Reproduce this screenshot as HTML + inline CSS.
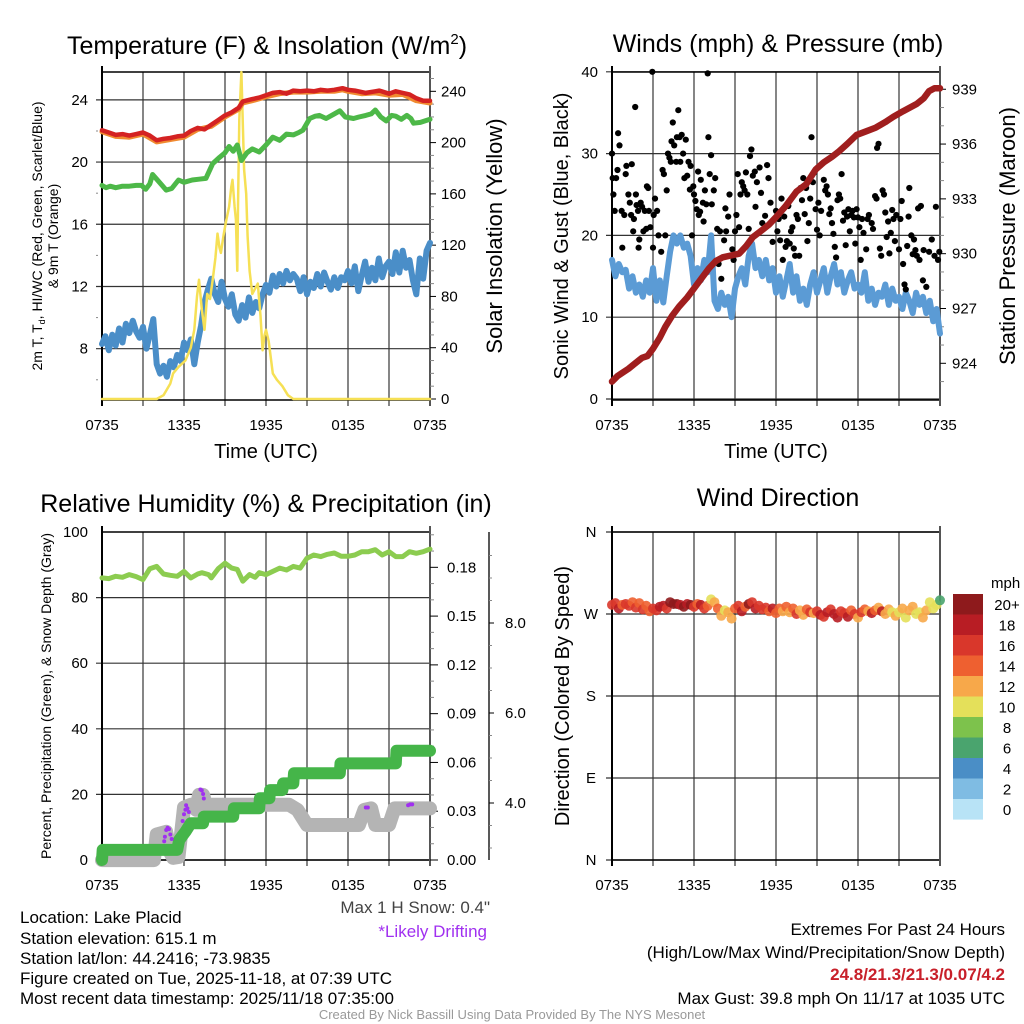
<!DOCTYPE html>
<html><head><meta charset="utf-8">
<style>
html,body{margin:0;padding:0;background:#fff;}
svg{display:block;font-family:"Liberation Sans",sans-serif;}
.nar{font-family:"Liberation Sans Narrow","Liberation Sans",sans-serif;}
</style></head>
<body>
<svg id="root" width="1024" height="1024" viewBox="0 0 1024 1024" xmlns="http://www.w3.org/2000/svg">
<rect x="0" y="0" width="1024" height="1024" fill="#fff"/>
<g id="p1"></g>
<g id="p2"></g>
<g id="p3"></g>
<g id="p4"></g>

<text x="267" y="54" font-size="25" text-anchor="middle">Temperature (F) &amp; Insolation (W/m<tspan font-size="15" dy="-10">2</tspan><tspan dy="10">)</tspan></text>
<text x="778" y="52" font-size="25" text-anchor="middle">Winds (mph) &amp; Pressure (mb)</text>
<text x="266" y="512" font-size="25" text-anchor="middle">Relative Humidity (%) &amp; Precipitation (in)</text>
<text x="778" y="506" font-size="25" text-anchor="middle">Wind Direction</text>

<text transform="translate(42,236) rotate(-90)" font-size="14" text-anchor="middle">2m T, T<tspan font-size="9" dy="3">d</tspan><tspan dy="-3">, HI/WC (Red, Green, Scarlet/Blue)</tspan></text>
<text transform="translate(58,236) rotate(-90)" font-size="14" text-anchor="middle">&amp; 9m T (Orange)</text>
<text transform="translate(502,236) rotate(-90)" font-size="22" text-anchor="middle">Solar Insolation (Yellow)</text>
<text x="266" y="458" font-size="20" text-anchor="middle">Time (UTC)</text>

<text transform="translate(568,236) rotate(-90)" font-size="20" text-anchor="middle">Sonic Wind &amp; Gust (Blue, Black)</text>
<text transform="translate(1015,236) rotate(-90)" font-size="22" text-anchor="middle">Station Pressure (Maroon)</text>
<text x="776" y="458" font-size="20" text-anchor="middle">Time (UTC)</text>

<text transform="translate(51,696) rotate(-90)" font-size="14" text-anchor="middle">Percent, Precipitation (Green), &amp; Snow Depth (Gray)</text>
<text transform="translate(569,696) rotate(-90)" font-size="20" text-anchor="middle">Direction (Colored By Speed)</text>

<text x="991" y="588" font-size="15">mph</text>
<g id="cbar"></g>

<text class="nar" x="490" y="913" font-size="17" text-anchor="end" fill="#444">Max 1 H Snow: 0.4"</text>
<text class="nar" x="487" y="937" font-size="17" text-anchor="end" fill="#a030f0">*Likely Drifting</text>
<text class="nar" x="20" y="923" font-size="17">Location: Lake Placid</text>
<text class="nar" x="20" y="944" font-size="17">Station elevation: 615.1 m</text>
<text class="nar" x="20" y="964" font-size="17">Station lat/lon: 44.2416; -73.9835</text>
<text class="nar" x="20" y="984" font-size="17">Figure created on Tue, 2025-11-18, at 07:39 UTC</text>
<text class="nar" x="20" y="1004" font-size="17">Most recent data timestamp: 2025/11/18 07:35:00</text>
<text class="nar" x="1005" y="935" font-size="17" text-anchor="end">Extremes For Past 24 Hours</text>
<text class="nar" x="1005" y="958" font-size="17" text-anchor="end">(High/Low/Max Wind/Precipitation/Snow Depth)</text>
<text class="nar" x="1005" y="980" font-size="17" font-weight="bold" text-anchor="end" fill="#c8202a">24.8/21.3/21.3/0.07/4.2</text>
<text class="nar" x="1005" y="1004" font-size="17" text-anchor="end">Max Gust: 39.8 mph On 11/17 at 1035 UTC</text>
<text class="nar" x="512" y="1019" font-size="13" text-anchor="middle" fill="#999">Created By Nick Bassill Using Data Provided By The NYS Mesonet</text>
</svg>
<script>
// ---------- DATA ----------
const xTickLabels = ["0735","1335","1935","0135","0735"];
// Panel 1 (hours since 0735, value)
const tempT = [[0,22.05],[0.5,21.9],[1,21.75],[1.5,21.8],[2,21.7],[2.5,21.8],[3,21.9],[3.5,21.7],[4,21.4],[4.5,21.5],[5,21.55],[5.5,21.65],[6,21.7],[6.5,22.0],[7,22.2],[7.5,22.1],[8,22.4],[8.5,22.7],[9,23.0],[9.5,23.2],[10,23.5],[10.3,23.9],[11,24.05],[11.5,24.15],[12,24.3],[12.5,24.45],[13,24.5],[13.5,24.4],[14,24.6],[14.5,24.55],[15,24.6],[15.5,24.55],[16,24.65],[16.5,24.6],[17,24.65],[17.6,24.75],[18,24.65],[18.5,24.6],[19,24.5],[19.3,24.45],[20,24.55],[20.3,24.6],[21,24.4],[21.5,24.55],[22,24.45],[22.5,24.35],[23,24.1],[23.5,23.95],[24,23.95]];
const temp9m = [[0,21.95],[1,21.65],[2,21.6],[3,21.8],[4,21.3],[5,21.45],[6,21.6],[7,22.1],[8,22.3],[9,22.9],[10,23.4],[10.3,23.8],[11,23.95],[12,24.2],[13,24.4],[14,24.5],[15,24.5],[16,24.55],[17,24.55],[17.6,24.65],[18,24.55],[19,24.4],[20,24.45],[21,24.3],[22,24.35],[23,23.95],[24,23.8]];
const dewT = [[0,18.5],[0.3,18.35],[0.6,18.45],[1,18.35],[1.5,18.45],[2,18.45],[2.5,18.5],[2.9,18.5],[3.2,18.25],[3.5,18.6],[3.7,19.2],[4,18.9],[4.4,18.5],[4.7,18.2],[5.1,18.3],[5.6,18.85],[6,18.7],[6.6,18.85],[7.1,18.9],[7.6,18.95],[8.1,19.9],[8.6,20.3],[9,20.6],[9.3,21.0],[9.6,20.7],[9.9,21.1],[10.2,20.1],[10.6,20.6],[11,20.85],[11.5,20.65],[12,21.1],[12.5,21.6],[13,21.4],[13.5,21.8],[14,21.75],[14.4,21.9],[14.7,22.05],[15.2,22.8],[15.6,22.95],[15.9,23.0],[16.4,22.8],[17,23.1],[17.4,23.3],[17.8,22.9],[18.4,22.8],[18.8,22.9],[19.3,23.0],[19.7,23.1],[20,23.35],[20.4,22.9],[20.8,22.65],[21.2,23.0],[21.5,22.95],[21.9,22.75],[22.3,23.0],[22.6,22.8],[22.8,22.5],[23.3,22.55],[24,22.75]];
const windChill = [8.3,8.8,7.9,8.9,8.2,9.3,8.4,9.6,9.0,9.8,9.1,8.7,9.4,8.0,8.9,9.9,7.0,6.4,6.9,6.2,7.2,6.8,7.6,7.2,8.4,7.9,8.6,7.0,8.4,9.5,11.0,11.8,12.5,11.5,11.0,12.3,11.2,10.7,11.5,10.2,9.8,10.8,10.0,11.3,10.3,11.0,10.6,11.5,12.1,11.6,12.7,12.0,12.8,12.2,13.0,12.4,12.8,12.5,11.7,12.6,11.5,12.3,11.9,12.8,12.0,12.9,12.3,11.8,12.6,11.9,12.6,12.4,13.0,12.2,13.3,11.7,12.7,13.6,12.3,13.2,12.4,13.8,12.6,13.3,13.6,12.8,14.2,12.9,14.3,13.2,13.7,12.4,11.5,13.8,12.5,14.3,14.8];
const solar = [[0,0],[4.0,0],[4.5,3],[5.0,12],[5.2,20],[5.6,25],[6.1,30],[6.5,40],[6.75,54],[6.95,80],[7.1,93],[7.3,70],[7.5,54],[7.7,82],[7.9,78],[8.1,93],[8.3,110],[8.45,129],[8.6,118],[8.7,114],[8.9,128],[9.1,140],[9.3,150],[9.45,165],[9.55,171],[9.7,150],[9.8,140],[9.9,100],[9.95,150],[10.05,218],[10.2,255],[10.3,215],[10.4,179],[10.55,160],[10.65,127],[10.8,100],[11.0,82],[11.2,86],[11.4,90],[11.6,65],[11.75,38],[11.9,50],[12.0,54],[12.2,45],[12.5,20],[12.8,15],[13.2,10],[13.6,3],[14.0,0],[24,0]];
// Panel 2
const pressure = [[0,923.0],[0.4,923.3],[0.8,923.5],[1.2,923.7],[1.7,924.0],[2.2,924.3],[2.6,924.4],[3,924.8],[3.5,925.4],[3.9,926.0],[4.4,926.6],[4.9,927.1],[5.5,927.6],[6.1,928.2],[6.6,928.7],[7.1,929.2],[7.6,929.6],[8.1,929.8],[8.7,929.9],[9.3,930.0],[9.8,930.4],[10.3,930.9],[11,931.3],[11.5,931.6],[12,932.0],[12.7,932.6],[13.5,933.4],[14.2,933.8],[14.9,934.6],[15.5,935.0],[16.1,935.3],[16.6,935.6],[17.2,936.0],[17.9,936.5],[18.6,936.7],[19.3,936.9],[20,937.2],[20.6,937.5],[21.3,937.8],[22.3,938.2],[22.8,938.5],[23.2,938.9],[23.6,939.05],[24,939.05]];
const windSpeed = [17,15,16.5,15.5,15.8,13.5,15,13,14,12.5,14.5,13,16,12,14.5,11.8,15,18,20,19,20,18.5,19,17.5,14,16,14.5,17,15.5,20,12,11,13,11.5,12.5,10,13.5,15,16,14,17.5,19,16,17,15,17,14.5,16,13,15,12.5,14.5,16.5,13,15,12,13.5,11.5,14,15.5,13,14.5,16,13,15,16.5,14,15.5,13,14.5,15.5,13.5,14,13,15.5,12,13.5,11.5,13,12.5,14,11.5,13.5,12,12.5,11,13,12,10.5,13,11.5,12.5,10.5,12,9.5,11,8];
const gustTimes = [0.0,0.05,0.1,0.2,0.3,0.4,0.45,0.55,0.7,0.75,0.9,1.0,1.05,1.2,1.3,1.4,1.45,1.55,1.6,1.7,1.75,1.8,1.9,1.95,2.0,2.1,2.2,2.3,2.4,2.5,2.55,2.65,2.7,2.8,2.95,3.0,3.05,3.15,3.3,3.4,3.6,3.7,3.8,3.9,4.0,4.1,4.2,4.3,4.35,4.45,4.55,4.7,4.75,4.85,4.95,5.0,5.1,5.2,5.3,5.4,5.5,5.6,5.7,5.75,5.85,5.95,6.0,6.1,6.2,6.3,6.35,6.45,6.5,6.65,6.7,6.8,6.9,7.0,7.05,7.15,7.25,7.3,7.45,7.55,7.7,7.8,7.9,8.0,8.2,8.3,8.35,8.5,8.6,8.8,8.9,9.0,9.1,9.2,9.3,9.4,9.5,9.6,9.7,9.8,9.9,10.0,10.1,10.2,10.3,10.45,10.5,10.6,10.8,10.9,11.0,11.2,11.35,11.45,11.6,11.75,11.9,12.0,12.1,12.2,12.3,12.4,12.5,12.6,12.7,12.8,12.9,13.0,13.1,13.2,13.3,13.4,13.5,13.6,13.7,13.8,13.9,14.0,14.1,14.2,14.3,14.4,14.5,14.6,14.7,14.8,14.9,15.0,15.1,15.2,15.3,15.5,15.6,15.7,15.8,15.9,16.0,16.1,16.2,16.3,16.4,16.5,16.6,16.7,16.8,16.9,17.0,17.1,17.2,17.3,17.4,17.5,17.6,17.7,17.8,17.9,18.0,18.1,18.2,18.3,18.4,18.6,18.7,18.8,19.0,19.1,19.25,19.35,19.4,19.5,19.6,19.7,19.8,19.9,20.0,20.1,20.2,20.3,20.4,20.5,20.6,20.7,20.8,21.0,21.1,21.2,21.3,21.4,21.5,21.6,21.7,21.75,21.9,22.0,22.1,22.2,22.3,22.4,22.5,22.6,22.75,22.8,23.0,23.2,23.4,23.6,23.7,23.85,23.95];
const gustValues = [30,27,25,23,27,28,32.5,31,23,18.5,22.5,27.5,28.5,25,24,22.5,28.7,20.5,22,35.7,25,23.7,23,18.5,19.5,24,23.5,20.5,23,20.8,26,25.8,23,21,40,18.5,22.5,24.5,23,20,18,28,27.5,20,25.5,30,29.5,29,31.5,33.8,31,29,32,35.3,32,29,32.3,30,27,31.7,27.3,29,25.6,28.5,20,26,25,24.2,23.2,27.8,22.5,22.9,26.8,24,21.7,25.5,23.8,39.8,32,27.5,29.8,23.8,25.5,27,20.8,16.5,20.5,14.7,19.4,23.3,20.5,22.3,25,18.3,17,20.5,22.5,27.5,21,25,26.5,26,25.5,27.7,25,20.8,29.7,30.5,27.3,27.8,23.5,26.5,28.3,25.2,21.5,22.4,28.6,27,24,19.2,22,23,20.5,22,19.4,24.5,17,22.3,18.6,19.3,23.6,19,20.5,21,18.4,17.5,22.5,22,17.5,25.8,24.3,27,22.6,25.8,19.3,21.5,24.5,32,26.5,27.7,23.2,20.7,24,20,23,26.8,25.5,26,25,22.6,23.3,21.5,20.2,18.6,17.3,24.3,25,24.5,27.5,21.8,22.8,18.8,22.3,23.2,20.5,22.5,23,22.2,19,23.2,22.2,21,17,22,20.3,18.3,22,22.5,21.5,20.8,24.8,24.5,30.7,31.2,18.4,17.5,25.5,25,22.8,19.8,21.7,17.8,20.3,23.1,22,19.3,22.5,18.3,22,24.2,16.5,14,13.4,18.7,22.3,25.8,20,17.7,19.5,18.2,17.5,23.3,17,23.6,14.5,18.2,13.7,18,19.5,17.5,23.5,17,18,14.5];
// Panel 3
const rhSeries = [[0,86],[0.5,85.8],[1,86.5],[1.5,86.2],[2,87],[2.5,86.4],[3,85.5],[3.5,88.8],[4,89.5],[4.5,87.2],[5,86.8],[5.5,86.5],[6,88],[6.5,86],[7,87.2],[7.3,87.6],[7.8,87],[8,86],[8.5,88.8],[9,90.5],[9.5,89],[9.9,88.6],[10.3,85],[10.8,87],[11.2,86.2],[11.5,87.6],[12,87],[12.5,88],[13,89],[13.5,88.4],[14,89.5],[14.5,89],[15,92],[15.5,93],[16,92.5],[16.5,93.2],[17,93.6],[17.5,92.6],[18,92.6],[18.5,93],[19,94],[19.5,94],[20,94.6],[20.5,93],[21,94],[21.5,92.5],[22,92.5],[22.5,94],[23,93.5],[23.5,94],[24,94.8]];
const precipSeries = [[0,0],[0.05,0.0062],[5.5,0.0062],[5.65,0.0123],[6.1,0.0174],[6.5,0.0226],[7.4,0.0226],[7.45,0.0267],[9.6,0.0267],[9.65,0.0318],[11.5,0.0318],[11.55,0.038],[12.25,0.038],[12.3,0.043],[13.2,0.043],[13.25,0.0471],[14.0,0.0471],[14.05,0.0533],[17.4,0.0533],[17.45,0.0594],[21.5,0.0594],[21.55,0.0672],[24,0.0672]];
const snowDepth = [[0,2.73],[3.8,2.73],[4.0,3.3],[4.7,3.36],[5.0,2.9],[5.2,2.78],[5.6,2.8],[5.8,3.36],[6.0,3.9],[6.5,3.96],[6.9,3.85],[7.1,4.18],[7.4,4.18],[7.6,3.96],[13.7,3.96],[14.3,3.85],[15.0,3.51],[18.8,3.51],[19.2,3.85],[19.7,3.88],[20.0,3.51],[21.0,3.51],[21.4,3.88],[24,3.88]];
const driftDots = [[4.7,3.4],[4.8,3.45],[4.9,3.42],[5.0,3.3],[4.6,3.25],[4.55,3.15],[5.1,3.2],[5.9,3.6],[6.0,3.75],[6.1,3.85],[6.15,3.95],[6.25,3.88],[6.35,3.8],[7.2,4.3],[7.3,4.28],[7.4,4.2],[7.45,4.1],[19.3,3.9],[19.45,3.9],[22.4,3.95],[22.55,3.97],[22.7,3.97]];
// Panel 4 (every 15 min)
const windDir = [280,282,276,280,281,279,283,277,282,275,279,273,276,274,278,279,276,283,281,281,280,278,281,280,278,281,280,276,279,286,283,276,268,274,272,265,276,279,273,278,281,283,276,279,275,277,273,276,271,276,273,278,272,276,270,274,269,275,272,271,273,269,267,272,275,270,266,273,271,267,274,270,266,272,275,273,271,274,277,273,270,275,272,268,272,276,266,274,278,270,272,266,274,283,276,280,285];
const dirSpeed = [17,16,18,15,16,17,14,16,15,17,14,15,17,16,18,19,16,21,20,21,19,20,18,21,17,15,19,16,15,10,12,14,12,11,13,12,14,16,19,15,20,17,18,16,17,16,14,18,14,15,13,14,12,14,16,13,12,14,16,13,17,19,16,18,17,19,18,16,17,18,14,16,13,16,14,13,18,14,12,19,13,12,10,12,11,13,10,12,12,11,10,13,12,11,10,11,7];
const cbarLabels = ["20+","18","16","14","12","10","8","6","4","2","0"];
const cbarColors = ["#8e1a1c","#b81d24","#d9372b","#ee6030","#f7a84a","#e4e05a","#7dc24c","#4aa46e","#4a8ec6","#7fbce3","#b8e3f6"];

// ---------- HELPERS ----------
const NS="http://www.w3.org/2000/svg";
function el(tag,parent){const e=document.createElementNS(NS,tag);parent.appendChild(e);return e;}
function setA(e,o){for(const k in o)e.setAttribute(k,o[k]);return e;}
const X0=102,X1=430,X0b=612,X1b=940;
function xA(h){return X0+h*(X1-X0)/24;}
function xB(h){return X0b+h*(X1b-X0b)/24;}
const y1L=v=>400-(v-4.7)*15.55, y1R=v=>399-v*1.282;
const y2L=v=>399-v*8.18, y2R=v=>363.3-(v-924)*18.27;
const y3L=v=>860-v*3.28, y3P=v=>860-v*1626, y3S=v=>803-(v-4)*45;
const y4=d=>860-d*328/360;
function pathD(pts,fx,fy){return pts.map((p,i)=>(i?"L":"M")+fx(p[0]).toFixed(1)+","+fy(p[1]).toFixed(1)).join("");}
function series15(arr){return arr.map((v,i)=>[i*0.25,v]);}
function speedColor(s){let b=Math.min(10,Math.floor(s/2));return cbarColors[10-b];}

function frame(g,x0,x1,y0,y1,hTicks,fy,pfx){
  for(let k=1;k<8;k++){
    const x=x0+k*(x1-x0)/8;
    const l=el("line",g);setA(l,{x1:x,x2:x,y1:y0,y2:y1+6,stroke:"#444","stroke-width":1.3});
    
    
  }
  hTicks.forEach(v=>{
    const y=fy(v);
    const l=el("line",g);setA(l,{x1:x0-6,x2:x1,y1:y,y2:y,stroke:"#333","stroke-width":1.2});
    
    
  });
  const r=el("rect",g);setA(r,{x:x0,y:y0,width:x1-x0,height:y1-y0,fill:"none",stroke:"#000","stroke-width":1.5});
  
  
  const lft=el("line",g);setA(lft,{x1:x0,x2:x0,y1:y0-6,y2:y1+6,stroke:"#000","stroke-width":2});
  
  
  const rgt=el("line",g);setA(rgt,{x1:x1,x2:x1,y1:y0-6,y2:y1+6,stroke:"#555","stroke-width":2});
  
  
  xTickLabels.forEach((t,i)=>{
    const x=x0+i*(x1-x0)/4;
    const tx=el("text",g);setA(tx,{x:x,y:y1+30,"font-size":15,"text-anchor":"middle"});tx.textContent=t;
    
    
  });
}
function ticks(g,vals,fy,x,len,labelFn,lx,anchor,pfx,minor){
  vals.forEach(v=>{
    const y=fy(v);
    const l=el("line",g);setA(l,{x1:x,x2:x+len,y1:y,y2:y,stroke:minor?"#888":"#000","stroke-width":1});
    
    
    if(labelFn){
      const t=el("text",g);setA(t,{x:lx,y:y+5,"font-size":15,"text-anchor":anchor});t.textContent=labelFn(v);
      
      
    }
  });
}
function line(g,d,color,w,name){
  const p=el("path",g);setA(p,{d:d,fill:"none",stroke:color,"stroke-width":w,"stroke-linejoin":"round","stroke-linecap":"round"});
  
  
  return p;
}

// ---------- PANEL 1 ----------
const g1=document.getElementById("p1");
frame(g1,X0,X1,72,400,[8,12,16,20,24],y1L,"temperature");
ticks(g1,[6,10,14,18,22],y1L,X0-4,-2,null,0,"end","temperature-left",true);
ticks(g1,[8,12,16,20,24],y1L,X0-6,0,v=>String(v),88,"end","temperature-left");
{let mv=[];for(let v=10;v<=250;v+=10)if(v%40)mv.push(v);ticks(g1,mv,y1R,X1,4,null,0,"start","insolation-right",true);}
ticks(g1,[0,40,80,120,160,200,240],y1R,X1,6,v=>String(v),441,"start","insolation-right");
line(g1,pathD(series15(windChill),xA,y1L),"#4a8ec8",6,"wind-chill-line");
line(g1,pathD(solar,xA,y1R),"#f6e055",2.5,"solar-insolation-line");
line(g1,pathD(dewT,xA,y1L),"#4db848",5,"dewpoint-line");
line(g1,pathD(temp9m,xA,y1L),"#f08a30",5,"temp-9m-line");
line(g1,pathD(tempT,xA,y1L),"#d42222",4.5,"temp-2m-line");

// ---------- PANEL 2 ----------
const g2=document.getElementById("p2");
frame(g2,X0b,X1b,72,400,[0,10,20,30,40],y2L,"winds");
ticks(g2,[5,15,25,35],y2L,X0b-4,0,null,0,"end","wind-left",true);
ticks(g2,[0,10,20,30,40],y2L,X0b-6,0,v=>String(v),598,"end","wind-left");
{let mv=[];for(let v=923;v<=939;v++)if(v%3)mv.push(v);ticks(g2,mv,y2R,X1b,4,null,0,"start","pressure-right",true);}
ticks(g2,[924,927,930,933,936,939],y2R,X1b,6,v=>String(v),952,"start","pressure-right");
line(g2,pathD(series15(windSpeed),xB,y2L),"#5b9bd5",6,"sonic-wind-line");
gustTimes.forEach((t,i)=>{
  const c=el("circle",g2);setA(c,{cx:xB(t).toFixed(1),cy:y2L(gustValues[i]).toFixed(1),r:3.1,fill:"#000"});
  
  
});
line(g2,pathD(pressure,xB,y2R),"#a01e1e",6.5,"station-pressure-line");

// ---------- PANEL 3 ----------
const g3=document.getElementById("p3");
frame(g3,X0,X1,532,860,[0,20,40,60,80],y3L,"humidity");
ticks(g3,[10,30,50,70,90],y3L,X0-4,0,null,0,"end","humidity-left",true);
ticks(g3,[0,20,40,60,80,100],y3L,X0-6,0,v=>String(v),88,"end","humidity-left");
{let mv=[];for(let v=1;v<=20;v++)if(v%3)mv.push(v/100);ticks(g3,mv,y3P,X1,4,null,0,"start","precip-right",true);}
ticks(g3,[0,0.03,0.06,0.09,0.12,0.15,0.18],y3P,X1,8,v=>v.toFixed(2),447,"start","precip-right");
{const a=el("line",g3);setA(a,{x1:489,x2:489,y1:532,y2:860,stroke:"#222","stroke-width":1.5});

}
{let mv=[];for(let v=3;v<=10;v+=0.5)if(v%2)mv.push(v);ticks(g3,mv,y3S,489,3,null,0,"start","snow-depth-axis",true);}
ticks(g3,[4,6,8],y3S,489,5,v=>v.toFixed(1),505,"start","snow-depth-axis");
line(g3,pathD(rhSeries,xA,y3L),"#8ccc50",5,"relative-humidity-line");
line(g3,pathD(snowDepth,xA,y3S),"#b4b4b4",14,"snow-depth-line");
line(g3,pathD(precipSeries,xA,y3P),"#45b549",12,"precipitation-line");
driftDots.forEach(p=>{
  const c=el("circle",g3);setA(c,{cx:xA(p[0]).toFixed(1),cy:y3S(p[1]).toFixed(1),r:2,fill:"#a030f0"});
  
  
});

// ---------- PANEL 4 ----------
const g4=document.getElementById("p4");
const dirLabels=[["N",360],["W",270],["S",180],["E",90],["N",0]];
frame(g4,X0b,X1b,532,860,dirLabels.map(d=>d[1]),y4,"direction");
dirLabels.forEach(d=>{
  const t=el("text",g4);setA(t,{x:591,y:y4(d[1])+5,"font-size":15,"text-anchor":"middle"});t.textContent=d[0];
  
  
});
windDir.forEach((d,i)=>{
  const c=el("circle",g4);setA(c,{cx:xB(i*0.25).toFixed(1),cy:y4(d).toFixed(1),r:5,fill:speedColor(dirSpeed[i]),"fill-opacity":0.9});
  
  
});

// colorbar
const cb=document.getElementById("cbar");
cbarColors.forEach((c,i)=>{
  const r=el("rect",cb);setA(r,{x:953,y:594+i*20.5,width:30,height:20.6,fill:c});
  
  
  const t=el("text",cb);setA(t,{x:1007,y:594+i*20.5+16,"font-size":15,"text-anchor":"middle"});t.textContent=cbarLabels[i];
  
  
});
</script>
</body></html>
